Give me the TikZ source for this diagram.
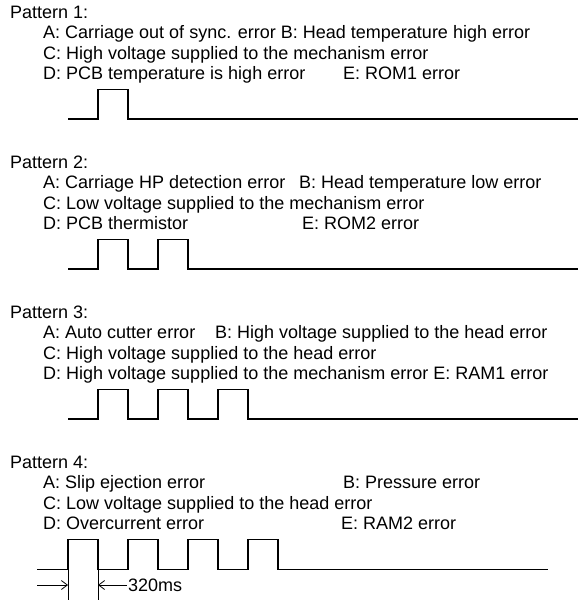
\documentclass[tikz,border=0pt]{standalone}
\usepackage{fontspec}
\setmainfont{Liberation Sans}
\usetikzlibrary{arrows.meta}
\tikzset{
  txt/.style={anchor=base west, inner sep=0pt, font=\fontsize{18}{20}\selectfont},
  wave/.style={line width=1.4pt, line join=miter},
  dimline/.style={line width=0.8pt},
  dimarrow/.style={line width=0.8pt, -{Straight Barb[length=6pt,width=9pt]}}
}
\begin{document}
\begin{tikzpicture}[x=1pt,y=-1pt]
\useasboundingbox (0,0) rectangle (578,600);
% Pattern 1
\node[txt] (p1) at (10,18.5) {Pattern 1:};
\node[txt] (p1a) at (43,38.5) {A: Carriage out of sync. error B: Head temperature high error};
\node[txt] (p1c) at (43,59) {C: High voltage supplied to the mechanism error};
\node[txt] (p1d) at (43,79.5) {D: PCB temperature is high error};
\node[txt] (p1e) at (343,79.5) {E: ROM1 error};
\draw[wave] (68,119) -- (98,119) -- (98,89.5) -- (128,89.5) -- (128,119) -- (578,119);
% Pattern 2
\node[txt] (p2) at (10,168.5) {Pattern 2:};
\node[txt] (p2a) at (43,188.5) {A: Carriage HP detection error};
\node[txt] (p2b) at (299,188.5) {B: Head temperature low error};
\node[txt] (p2c) at (43,209) {C: Low voltage supplied to the mechanism error};
\node[txt] (p2d) at (43,229.5) {D: PCB thermistor};
\node[txt] (p2e) at (302,229.5) {E: ROM2 error};
\draw[wave] (68,269) -- (98,269) -- (98,239.5) -- (128,239.5) -- (128,269)
  -- (158,269) -- (158,239.5) -- (188,239.5) -- (188,269) -- (578,269);
% Pattern 3
\node[txt] (p3) at (10,318.5) {Pattern 3:};
\node[txt] (p3a) at (43,338.5) {A: Auto cutter error};
\node[txt] (p3b) at (215,338.5) {B: High voltage supplied to the head error};
\node[txt] (p3c) at (43,359) {C: High voltage supplied to the head error};
\node[txt] (p3d) at (43,379.5) {D: High voltage supplied to the mechanism error E: RAM1 error};
\draw[wave] (68,419) -- (98,419) -- (98,389.5) -- (128,389.5) -- (128,419)
  -- (158,419) -- (158,389.5) -- (188,389.5) -- (188,419)
  -- (218,419) -- (218,389.5) -- (248,389.5) -- (248,419) -- (578,419);
% Pattern 4
\node[txt] (p4) at (10,468.5) {Pattern 4:};
\node[txt] (p4a) at (43,488.5) {A: Slip ejection error};
\node[txt] (p4b) at (343,488.5) {B: Pressure error};
\node[txt] (p4c) at (43,509) {C: Low voltage supplied to the head error};
\node[txt] (p4d) at (43,529.5) {D: Overcurrent error};
\node[txt] (p4e) at (341,529.5) {E: RAM2 error};
\draw[wave] (37,569.5) -- (68,569.5) -- (68,539.5) -- (98,539.5) -- (98,569.5)
  -- (128,569.5) -- (128,539.5) -- (158,539.5) -- (158,569.5)
  -- (188,569.5) -- (188,539.5) -- (218,539.5) -- (218,569.5)
  -- (248,569.5) -- (248,539.5) -- (278,539.5) -- (278,569.5) -- (548,569.5);
% dimension
\coordinate (d1top) at (68,569.5);
\coordinate (d1bot) at (68,600);
\coordinate (d2top) at (98,569.5);
\coordinate (d2bot) at (98,600);
\coordinate (la) at (37,585);
\coordinate (lb) at (68,585);
\coordinate (ra) at (127,585);
\coordinate (rb) at (98,585);
\draw[dimline] (d1top) -- (d1bot);
\draw[dimline] (d2top) -- (d2bot);
\draw[dimarrow] (la) -- (lb);
\draw[dimarrow] (ra) -- (rb);
\node[txt] (ms) at (128,591) {320ms};
\end{tikzpicture}
\end{document}
